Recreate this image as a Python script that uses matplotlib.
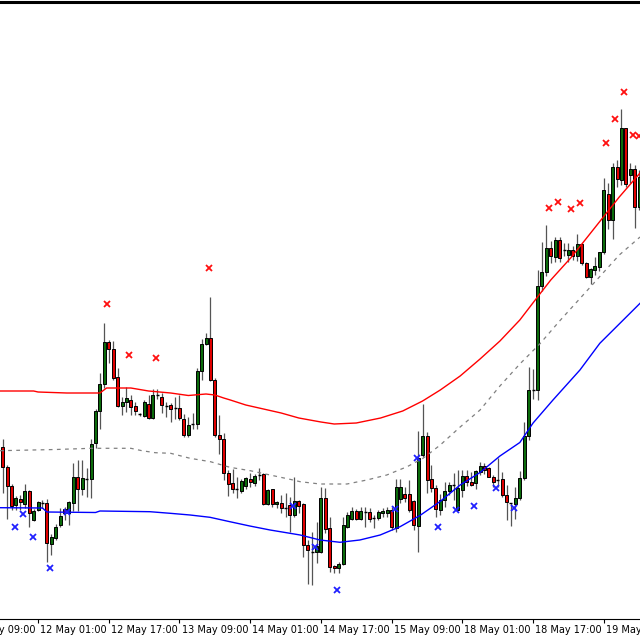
import matplotlib
matplotlib.use("Agg")
import matplotlib.pyplot as plt

# hourly candles, bar 0 = 11 May 17:00 (prices in points)
opens = [173, 153, 134, 115, 121, 116, 129, 100, 110, 117, 117, 76, 82, 95, 111, 107, 117, 143, 131, 141,
         141, 177, 209, 236, 278, 271, 243, 214, 218, 220, 214, 206, 204, 216, 202, 225, 223, 214, 215, 212,
         212, 201, 185, 196, 196, 249, 276, 282, 240, 185, 181, 147, 137, 131, 129, 134, 141, 137, 145, 146,
         116, 131, 116, 117, 112, 115, 105, 119, 116, 75, 68, 68, 68, 122, 92, 54, 52, 56, 93, 101,
         109, 101, 108, 108, 102, 102, 107, 107, 110, 92, 121, 126, 126, 119, 94, 165, 184, 141, 132, 110,
         120, 129, 135, 110, 130, 144, 138, 137, 148, 154, 152, 143, 140, 141, 125, 117, 116, 122, 142, 184,
         230, 230, 334, 348, 372, 363, 380, 370, 365, 370, 364, 376, 357, 343, 350, 353, 368, 426, 400, 453,
         440, 492, 445, 451, 413]
highs = [181, 155, 136, 124, 125, 136, 130, 111, 119, 120, 121, 86, 96, 112, 113, 119, 157, 160, 160, 152,
         181, 211, 247, 297, 280, 279, 252, 223, 233, 225, 218, 207, 220, 225, 231, 231, 227, 218, 217, 223,
         225, 206, 203, 207, 252, 281, 287, 323, 242, 205, 187, 150, 151, 143, 141, 143, 147, 146, 152, 147,
         131, 131, 119, 125, 127, 123, 143, 120, 117, 80, 88, 98, 133, 132, 103, 55, 58, 103, 108, 113,
         111, 113, 113, 112, 105, 110, 112, 113, 113, 141, 141, 133, 140, 120, 189, 216, 188, 155, 135, 126,
         138, 138, 147, 150, 150, 150, 148, 150, 158, 157, 153, 145, 162, 148, 135, 117, 133, 149, 198, 253,
         251, 350, 378, 395, 379, 383, 383, 377, 377, 374, 386, 377, 358, 352, 363, 368, 442, 437, 457, 460,
         511, 492, 457, 455, 450]
lows = [127, 101, 110, 110, 110, 112, 93, 99, 109, 112, 58, 65, 80, 93, 100, 95, 109, 109, 125, 123,
        122, 172, 191, 232, 257, 240, 213, 205, 208, 205, 205, 204, 203, 201, 201, 221, 207, 203, 198, 201,
        200, 183, 183, 191, 191, 240, 275, 239, 183, 166, 140, 124, 127, 122, 127, 131, 133, 134, 140, 115,
        115, 113, 112, 107, 103, 88, 103, 107, 63, 36, 35, 57, 67, 87, 48, 47, 47, 55, 92, 100,
        100, 100, 93, 98, 92, 100, 103, 103, 90, 88, 117, 118, 108, 90, 68, 163, 127, 128, 103, 105,
        113, 125, 120, 110, 123, 134, 134, 131, 145, 146, 143, 133, 133, 123, 100, 94, 101, 120, 140, 180,
        221, 220, 329, 344, 357, 358, 358, 364, 358, 360, 359, 355, 342, 336, 345, 349, 366, 391, 381, 433,
        435, 433, 437, 392, 410]
closes = [153, 134, 114, 122, 118, 129, 107, 109, 118, 117, 77, 83, 93, 104, 107, 118, 143, 131, 142, 141,
          176, 209, 236, 278, 271, 242, 214, 218, 222, 213, 209, 206, 218, 202, 225, 225, 215, 214, 211, 212,
          202, 185, 195, 196, 249, 276, 282, 240, 185, 181, 147, 136, 131, 131, 139, 142, 138, 144, 145, 116,
          130, 116, 118, 112, 112, 105, 119, 114, 75, 70, 68, 74, 122, 91, 53, 52, 56, 95, 105, 109,
          101, 109, 108, 101, 102, 108, 109, 110, 93, 133, 133, 122, 110, 95, 162, 184, 140, 132, 111, 120,
          129, 135, 135, 132, 144, 138, 135, 149, 154, 150, 143, 138, 140, 125, 118, 117, 122, 142, 184, 230,
          230, 334, 348, 372, 364, 380, 362, 370, 370, 364, 376, 357, 343, 351, 354, 368, 430, 400, 453, 441,
          492, 436, 451, 413, 443]

# band lines (bar position, price)
upper_x = [-0.6, 7, 8, 14.5, 22, 23.5, 29, 33, 38, 42, 46, 48, 50, 51.5, 55, 60, 63, 67, 72, 75,
           80, 85.5, 90.5, 95, 99, 103.5, 108, 112.5, 117, 121, 124, 128.5, 130.5, 135, 139.5, 144.2]
upper_y = [229, 229, 228, 227, 227, 232, 232, 229, 227, 224.5, 226, 225, 222, 220, 215, 210, 207, 202, 198, 196,
           197, 202, 209, 219, 230, 244, 261, 279, 300, 323, 340, 362, 373, 398, 423, 447]
mid_x = [-0.6, 12, 20, 29, 31.5, 34.5, 38, 42.4, 47, 51.4, 56, 60.5, 65, 67.3, 71.8, 77.9, 82.4, 86.9,
         91.5, 95.1, 99, 103.5, 108, 112.5, 117, 121.5, 126, 130.5, 135, 139.5, 144.2]
mid_y = [169.3, 170.5, 171.7, 171.7, 169.3, 167.3, 166.7, 161.7, 158.3, 152.7, 149.3, 145, 140.7, 138.3, 136, 136,
         140, 145, 153.3, 161.7, 175, 193, 210, 234, 256, 276, 299, 321, 343, 365, 383]
lower_x = [-0.6, 9, 10, 21, 22, 33.3, 37.9, 42.4, 46.9, 51.4, 55.9, 60.5, 65, 67.3, 71.8, 76.3, 80.8, 85.4,
           89.9, 94.4, 98.9, 103.5, 108, 112.5, 117, 120, 124.5, 130.6, 135.1, 144.2]
lower_y = [112.3, 112, 108, 107.5, 109, 108.3, 106.7, 105, 102.7, 98.3, 94, 90, 86.7, 85, 80, 77.7, 80, 85,
           93.3, 104.5, 118.3, 135, 147.5, 164, 177.5, 197, 220, 250, 276.7, 316.7]

# signal crosses
sell_x = [23.7, 28.6, 34.7, 46.7, 123.6, 125.6, 128.5, 130.6, 136.5, 138.5, 140.6, 142.5, 144.0]
sell_y = [316, 265, 262, 352, 412, 418, 411, 417, 477, 501, 528, 485, 484]
buy_x = [2.8, 4.7, 6.8, 10.7, 14.5, 65.6, 70.7, 75.6, 88.8, 93.7, 98.6, 102.6, 106.6, 111.5, 115.6]
buy_y = [93.3, 106, 83.3, 51.7, 108.3, 114, 73.3, 30, 110.7, 161.7, 93.3, 110, 114, 131.7, 111.7]

tick_bars = [-8, 8, 24, 40, 56, 72, 88, 104, 120, 136]
tick_labels = ["11 May 09:00", "12 May 01:00", "12 May 17:00", "13 May 09:00", "14 May 01:00",
               "14 May 17:00", "15 May 09:00", "18 May 01:00", "18 May 17:00", "19 May 09:00"]

fig = plt.figure(figsize=(6.4, 6.4), dpi=100)
ax = fig.add_axes([0, 21 / 640, 1, 617 / 640])

bar_w = 0.68
for i in range(len(opens)):
    o, h, l, c = opens[i], highs[i], lows[i], closes[i]
    ax.vlines(i, l, h, color="#555555", lw=0.9, zorder=1)
    if o == c:
        ax.hlines(o, i - bar_w / 2, i + bar_w / 2, color="black", lw=1.0, zorder=2)
    else:
        col = "#0b6b0b" if c > o else "#e00000"
        ax.bar(i, abs(c - o), bottom=min(o, c), width=bar_w, color=col,
               edgecolor="black", linewidth=0.7, zorder=2)

ax.plot(upper_x, upper_y, color="#ff0000", lw=1.0, zorder=3)
ax.plot(mid_x, mid_y, color="#808080", lw=0.9, dashes=(3, 3.5), zorder=3)
ax.plot(lower_x, lower_y, color="#0000ff", lw=1.0, zorder=3)

ax.plot(sell_x, sell_y, ls="none", marker="x", ms=4, mew=1.3, color="#ff1010", zorder=4)
ax.plot(buy_x, buy_y, ls="none", marker="x", ms=4, mew=1.3, color="#2020ff", zorder=4)

ax.set_xlim(-0.61, 144.19)
ax.set_ylim(1, 618)
ax.set_yticks([])
for s in ["left", "right"]:
    ax.spines[s].set_visible(False)
ax.spines["top"].set_linewidth(2.2)
ax.spines["bottom"].set_linewidth(0.8)

ax.set_xticks([b for b in tick_bars if b >= -0.61])
ax.set_xticklabels([])
ax.tick_params(axis="x", direction="out", length=3, width=0.8, color="black")
for b, t in zip(tick_bars, tick_labels):
    ax.annotate(t, xy=(b, 0), xycoords=("data", "axes fraction"), xytext=(1.5, -4.5),
                textcoords="offset points", ha="left", va="top", fontsize=7,
                color="black", annotation_clip=False)

fig.savefig("out.png", dpi=100)
